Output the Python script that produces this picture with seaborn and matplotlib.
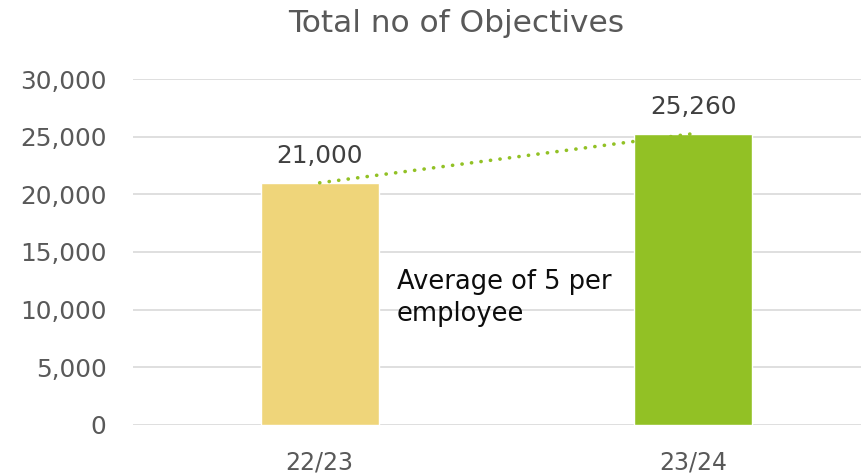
import matplotlib
matplotlib.use("Agg")
import matplotlib.pyplot as plt
import seaborn as sns
import pandas as pd
from matplotlib.ticker import FuncFormatter

years = ["22/23", "23/24"]
objectives = [21000, 25260]
bar_colors = ["#EFD57A", "#92C125"]
y_ticks = [0, 5000, 10000, 15000, 20000, 25000, 30000]

df = pd.DataFrame({"year": years, "objectives": objectives})

sns.set_theme(style="white")
plt.rcParams["font.family"] = ["DejaVu Sans"]

fig = plt.figure(figsize=(8.61, 4.76), dpi=100)
ax = fig.add_axes([133 / 861, 51 / 476, 1 - 133 / 861, 346 / 476])

sns.barplot(data=df, x="year", y="objectives", hue="year",
            palette=bar_colors, width=0.316, legend=False, ax=ax,
            saturation=1)

# dotted trend between bar tops
ax.plot([0, 1], objectives, linestyle=(0, (0.05, 2.6)), color="#92C125",
        linewidth=2.6, dash_capstyle="round", solid_capstyle="round")

for i, v in enumerate(objectives):
    ax.text(i, v + 1250, f"{v:,}", ha="center", va="bottom",
            fontsize=17.8, color="#404040")

ax.text(0.207, 11000, "Average of 5 per\nemployee", ha="left", va="center",
        fontsize=18.5, color="#0d0d0d", linespacing=1.3)

ax.set_ylim(0, 30000)
ax.set_xlim(-0.5, 1.45)
ax.set_yticks(y_ticks)
ax.yaxis.set_major_formatter(FuncFormatter(lambda v, p: f"{int(v):,}"))
ax.grid(axis="y", color="#d9d9d9", linewidth=1.2)
ax.set_axisbelow(True)
for s in ax.spines.values():
    s.set_visible(False)
ax.tick_params(axis="y", length=0, pad=19, labelsize=17.8, labelcolor="#595959")
ax.tick_params(axis="x", length=0, pad=18, labelsize=17, labelcolor="#595959")
ax.set_xlabel("")
ax.set_ylabel("")

fig.text(456 / 861, 1 - 24 / 476, "Total no of Objectives", ha="center",
         va="center", fontsize=22.5, color="#595959")

fig.savefig("out.png", dpi=100)
